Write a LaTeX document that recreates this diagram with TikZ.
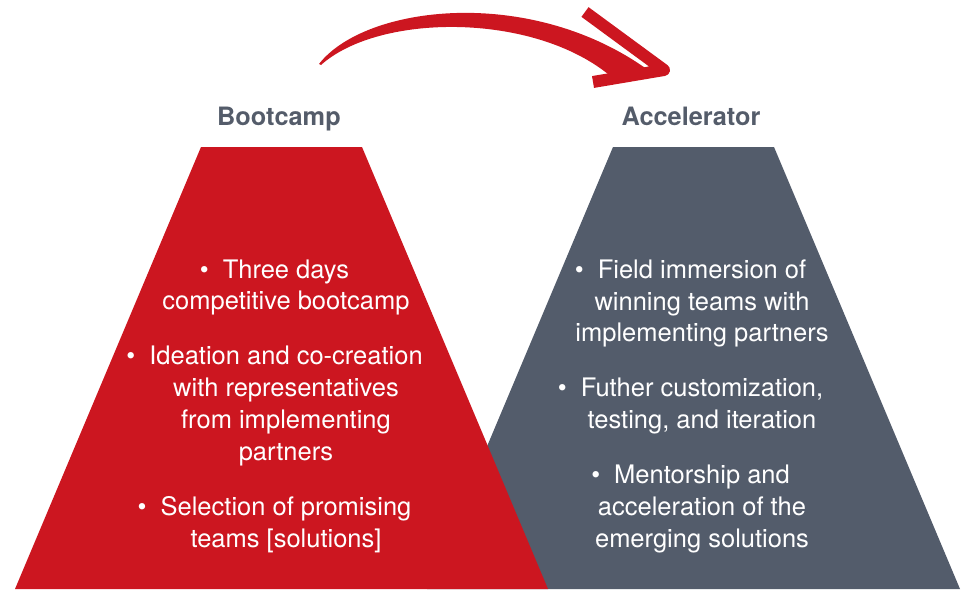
\documentclass[tikz,border=0pt]{standalone}
\usepackage{fontspec}
\setmainfont{TeX Gyre Heros}
\definecolor{bcred}{RGB}{204,22,32}
\definecolor{acgray}{RGB}{83,92,107}
\definecolor{titlegray}{RGB}{84,92,106}
\begin{document}
\begin{tikzpicture}[x=1pt,y=-1pt,
  bodytext/.style={text=white, align=center, inner sep=0pt,
    font=\fontsize{25.5}{31.8}\selectfont},
  titletext/.style={text=titlegray, inner sep=0pt, anchor=base,
    font=\fontsize{25.3}{29}\selectfont\bfseries},
  chevron/.style={draw=bcred, line width=12pt, line join=round, line cap=butt}]
\useasboundingbox (0,0) rectangle (965,589);
% trapezoids
\fill[acgray] (613,147) -- (774,147) -- (960,589) -- (427,589) -- cycle;
\fill[bcred] (201,147) -- (362,147) -- (548,589) -- (15,589) -- cycle;
% titles
\node[titletext] (t1) at (279,125.5) {Bootcamp};
\node[titletext] (t2) at (691,125.5) {Accelerator};
% swoosh arrow
\coordinate (tail) at (319,64);
\coordinate (tip) at (664,70);
\fill[bcred] (tail) .. controls (365,5) and (530,-15) .. (648,70)
  -- (615,80) .. controls (540,12) and (380,12) .. (321,65) -- cycle;
\draw[chevron] (585,12) -- (tip) -- (593,82);
% left texts
\node[bodytext] (b1) at (286,287.5) {\llap{\textbullet\hspace{14pt}}Three days\\competitive bootcamp};
\node[bodytext] (b2) at (286,406) {\llap{\textbullet\hspace{14pt}}Ideation and co-creation\\with representatives\\from implementing\\partners};
\node[bodytext] (b3) at (286,525) {\llap{\textbullet\hspace{14pt}}Selection of promising\\teams [solutions]};
% right texts
\node[bodytext] (a1) at (702,303.5) {\llap{\textbullet\hspace{14pt}}Field immersion of\\winning teams with\\implementing partners};
\node[bodytext] (a2) at (702,406) {\llap{\textbullet\hspace{14pt}}Futher customization,\\testing, and iteration};
\node[bodytext] (a3) at (702,509) {\llap{\textbullet\hspace{14pt}}Mentorship and\\acceleration of the\\emerging solutions};
\end{tikzpicture}
\end{document}
